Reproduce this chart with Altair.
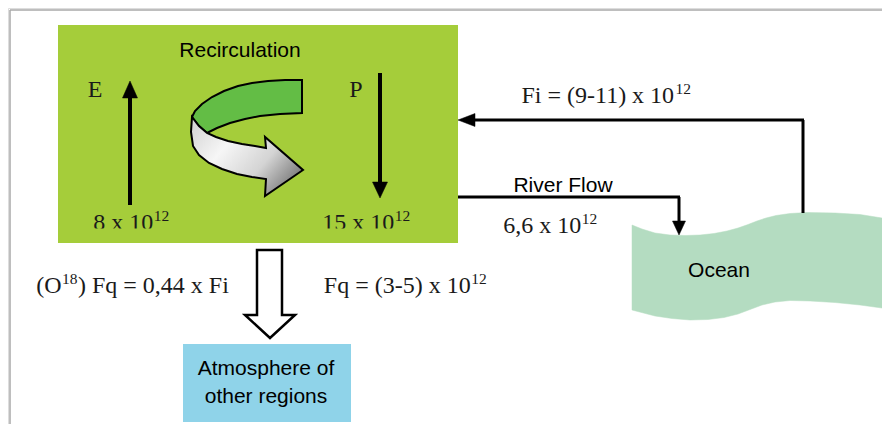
import altair as alt
import pandas as pd

# ---------------- data (diagram content) ----------------
# frame of the plot in picture pixels
X0, X1, Y0, Y1 = 8, 882, 8, 424

# boxes: name, left, right, top, bottom, colour
box_names = ["land", "atmosphere"]
box_left = [58, 183]
box_right = [458, 351]
box_top = [25, 344]
box_bottom = [243, 422]
box_colors = ["#a5cd3a", "#8fd3e9"]

# straight flow lines (x, y) -> (x2, y2), width
line_x = [10, 10, 130, 380, 474, 803, 458, 679]
line_y = [10, 10, 205, 73, 120, 120, 197, 197]
line_x2 = [890, 10, 130, 380, 804, 803, 680, 679]
line_y2 = [10, 432, 95, 185, 120, 213, 197, 222]
line_w = [1.5, 1.5, 4, 4, 3, 3, 3, 3]
line_col = ["#a8a8a8", "#a8a8a8", "black", "black", "black", "black", "black", "black"]

# arrow heads (polygons)
heads = [
    [(130, 81), (137.5, 98), (122.5, 98)],      # E up
    [(380, 198), (372.5, 182), (387.5, 182)],   # P down
    [(458, 120), (475, 113.5), (475, 126.5)],   # Fi left
    [(679, 235), (672.5, 221), (685.5, 221)],   # river down
]

# recirculation arrow
green_band = [(302, 80), (285, 80), (268, 81), (252, 83), (238, 86), (224, 91), (212, 97),
              (202, 104), (195, 111), (192, 117), (199, 126), (207, 133), (217, 128),
              (230, 123), (245, 119), (260, 116), (280, 114), (302, 113)]
gray_band = [(192, 117), (199, 126), (207, 133), (216, 137), (228, 141), (242, 144),
             (255, 146), (266, 148), (265, 137), (303, 170), (265, 196), (266, 179),
             (252, 177), (237, 174), (222, 169), (209, 163), (199, 155), (193, 146),
             (191, 132)]

# block arrow to other regions
block_arrow = [(257, 250), (282, 250), (282, 315), (295, 315), (270, 338),
               (245, 315), (257, 315)]

# ocean
ocean = [(632, 225), (642, 229), (655, 233), (670, 235), (685, 235.5), (700, 235),
         (714, 233.5), (727, 231), (738, 228), (748, 224.5), (757, 221), (766, 218),
         (776, 215.5), (790, 213.5), (807, 212.5), (835, 213), (860, 214.5), (882, 218),
         (882, 308), (860, 305), (835, 302.5), (810, 301), (790, 300.5), (775, 302),
         (762, 305), (750, 309.5), (738, 314), (724, 317.5), (708, 319.5), (690, 320),
         (672, 318.5), (655, 316), (632, 310)]

# sans labels: text, centre x, baseline y
sans_text = ["Recirculation", "River Flow", "Ocean", "Atmosphere of", "other regions"]
sans_cx = [240, 563, 719, 266, 266]
sans_by = [57, 192, 277, 375, 403]

# serif formulas: parts (text, superscript?), centre x, baseline y
formulas = [
    [("E", False)],
    [("P", False)],
    [("8 x 10", False), ("12", True)],
    [("15 x 10", False), ("12", True)],
    [("Fi = (9-11) x 10", False), ("12", True)],
    [("6,6 x 10", False), ("12", True)],
    [("(O", False), ("18", True), (") Fq = 0,44 x Fi", False)],
    [("Fq = (3-5) x 10", False), ("12", True)],
]
formula_cx = [95, 356, 131, 366, 606, 550, 132, 405]
formula_by = [97, 97, 230, 230, 103, 233, 293, 293]

# ---------------- layout helpers ----------------
SERIF = 24
SUP = 15.5
RAISE = 9.5
SANS = 21
TIMES = {" ": 250, "x": 500, "=": 564, "(": 333, ")": 333, "-": 333, "F": 556,
         "i": 278, "q": 500, ",": 250, "O": 722, "E": 611, "P": 556}
for d in "0123456789":
    TIMES[d] = 500


def tw(s, size):
    return sum(TIMES.get(c, 500) for c in s) * size / 1000.0


base_rows, sup_rows = [], []
for parts, cx, by in zip(formulas, formula_cx, formula_by):
    total = sum(tw(t, SUP if s else SERIF) for t, s in parts)
    x = cx - total / 2
    for t, s in parts:
        if s:
            sup_rows.append({"t": t, "x": x + 0.5, "y": by - RAISE})
            x += tw(t, SUP) + 1
        else:
            base_rows.append({"t": t, "x": x, "y": by})
            x += tw(t, SERIF)

xs = alt.Scale(domain=[X0, X1], nice=False, zero=False)
ys = alt.Scale(domain=[Y0, Y1], nice=False, zero=False, reverse=True)


def feat(pts):
    ring = [list(p) for p in pts] + [list(pts[0])]
    return {"type": "Feature", "properties": {},
            "geometry": {"type": "Polygon", "coordinates": [ring]}}


proj = dict(type="identity", scale=1, translate=[-X0, -Y0])

# ---------------- layers ----------------
boxes = pd.DataFrame({"n": box_names, "x": box_left, "x2": box_right,
                      "y": box_top, "y2": box_bottom, "c": box_colors})
box_layer = alt.Chart(boxes).mark_rect().encode(
    x=alt.X("x:Q", scale=xs, axis=None), x2="x2:Q",
    y=alt.Y("y:Q", scale=ys, axis=None), y2="y2:Q",
    color=alt.Color("c:N", scale=None))

lines = pd.DataFrame({"x": line_x, "y": line_y, "x2": line_x2, "y2": line_y2,
                      "w": line_w, "c": line_col})
line_layer = alt.Chart(lines).mark_rule().encode(
    x=alt.X("x:Q", scale=xs, axis=None), x2="x2:Q",
    y=alt.Y("y:Q", scale=ys, axis=None), y2="y2:Q",
    strokeWidth=alt.StrokeWidth("w:Q", scale=None),
    color=alt.Color("c:N", scale=None))

ocean_layer = alt.Chart(alt.Data(values=[feat(ocean)])).mark_geoshape(
    fill="#b4dcc1", stroke="#b4dcc1", strokeWidth=0.5).project(**proj)

block_layer = alt.Chart(alt.Data(values=[feat(block_arrow)])).mark_geoshape(
    fill="white", stroke="black", strokeWidth=2.5, strokeJoin="miter").project(**proj)

green_layer = alt.Chart(alt.Data(values=[feat(green_band)])).mark_geoshape(
    fill="#63bd45", stroke="black", strokeWidth=2).project(**proj)

gray_fill = alt.Gradient(
    gradient="linear", x1=0, y1=0.2, x2=1, y2=0.8,
    stops=[alt.GradientStop(color="#d9d9d9", offset=0),
           alt.GradientStop(color="#f6f6f6", offset=0.3),
           alt.GradientStop(color="#d4d4d4", offset=0.65),
           alt.GradientStop(color="#6f6f6f", offset=1)])
gray_layer = alt.Chart(alt.Data(values=[feat(gray_band)])).mark_geoshape(
    fill=gray_fill, stroke="black", strokeWidth=2).project(**proj)

head_layer = alt.Chart(alt.Data(values=[feat(h) for h in heads])).mark_geoshape(
    fill="black", stroke="black", strokeWidth=0.5).project(**proj)

sans_df = pd.DataFrame({"t": sans_text, "x": sans_cx, "y": sans_by})
sans_layer = alt.Chart(sans_df).mark_text(
    font="Liberation Sans", fontSize=SANS, align="center", baseline="alphabetic",
    color="black").encode(
    x=alt.X("x:Q", scale=xs, axis=None), y=alt.Y("y:Q", scale=ys, axis=None), text="t:N")

base_layer = alt.Chart(pd.DataFrame(base_rows)).mark_text(
    font="Liberation Serif", fontSize=SERIF, align="left", baseline="alphabetic",
    color="#1a1a1a").encode(
    x=alt.X("x:Q", scale=xs, axis=None), y=alt.Y("y:Q", scale=ys, axis=None), text="t:N")

sup_layer = alt.Chart(pd.DataFrame(sup_rows)).mark_text(
    font="Liberation Serif", fontSize=SUP, align="left", baseline="alphabetic",
    color="#1a1a1a").encode(
    x=alt.X("x:Q", scale=xs, axis=None), y=alt.Y("y:Q", scale=ys, axis=None), text="t:N")

# green strip that trims the bottom of the two lower numbers, as in the source
strip = pd.DataFrame({"x": [75], "x2": [425], "y": [228.5], "y2": [237]})
strip_layer = alt.Chart(strip).mark_rect(color=box_colors[0]).encode(
    x=alt.X("x:Q", scale=xs, axis=None), x2="x2:Q",
    y=alt.Y("y:Q", scale=ys, axis=None), y2="y2:Q")

chart = alt.layer(
    box_layer, ocean_layer, block_layer, line_layer, head_layer,
    green_layer, gray_layer, sans_layer, base_layer, sup_layer, strip_layer,
).properties(
    width=X1 - X0, height=Y1 - Y0, padding=0,
    autosize=alt.AutoSizeParams(type="none"),
).configure_view(stroke=None).configure(background="white")

chart.save("out.html", embed_options={"renderer": "svg", "actions": False})
